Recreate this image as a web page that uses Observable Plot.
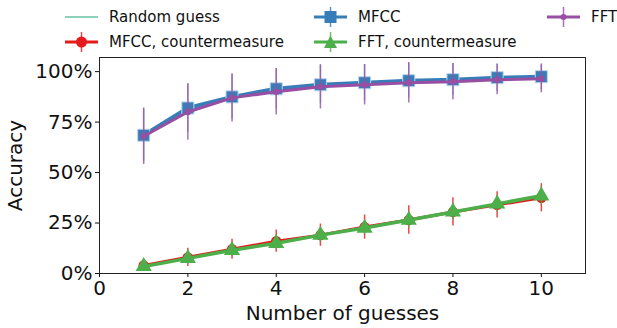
<!DOCTYPE html>
<html><head><meta charset="utf-8">
<script src="https://cdn.jsdelivr.net/npm/d3@7"></script>
<script src="https://cdn.jsdelivr.net/npm/@observablehq/plot@0.6"></script>
<style>
body{margin:0;background:#fff;font-family:"DejaVu Sans",sans-serif}
#wrap{position:relative;width:617px;height:328px}
.leg{position:absolute;font-size:15px;color:#111;display:flex;align-items:center;white-space:nowrap}
.leg svg{margin-right:11px}
</style></head><body>
<div id="wrap"></div>
<script>
const guesses = [1,2,3,4,5,6,7,8,9,10];
const randomGuess = guesses.map(n => n/26);
const mfcc    = [0.685,0.82,0.875,0.915,0.935,0.945,0.955,0.96,0.97,0.975];
const mfccErr = [0.13,0.12,0.11,0.10,0.095,0.09,0.085,0.08,0.07,0.065];
const fft     = [0.68,0.80,0.87,0.90,0.925,0.935,0.945,0.95,0.96,0.965];
const fftErr  = [0.14,0.14,0.12,0.115,0.11,0.10,0.10,0.09,0.075,0.07];
const mfccCm    = [0.04,0.08,0.12,0.16,0.19,0.23,0.265,0.305,0.34,0.375];
const mfccCmErr = [0.03,0.045,0.05,0.055,0.055,0.06,0.07,0.07,0.065,0.07];
const fftCm     = [0.035,0.075,0.115,0.15,0.19,0.225,0.265,0.305,0.345,0.385];
const fftCmErr  = [0.02,0.025,0.03,0.03,0.035,0.035,0.04,0.04,0.04,0.045];
const xTicks = [0,2,4,6,8,10];
const yTicks = [0,0.25,0.5,0.75,1.0];

const C = {rand:"#66c2a5", red:"#e41a1c", blue:"#377eb8", green:"#4daf4a", purple:"#984ea3"};

function rows(vals, err){ return guesses.map((g,i)=>({x:g,y:vals[i],lo:vals[i]-err[i],hi:vals[i]+err[i]})); }
const dMfcc = rows(mfcc,mfccErr), dFft = rows(fft,fftErr), dMc = rows(mfccCm,mfccCmErr), dFc = rows(fftCm,fftCmErr);
const dRand = guesses.map((g,i)=>({x:g,y:randomGuess[i]}));

const plot = Plot.plot({
  width:617, height:328,
  marginLeft:99, marginRight:32, marginTop:57, marginBottom:55,
  style:{fontFamily:"DejaVu Sans", fontSize:"20px", color:"#111", background:"white"},
  x:{domain:[0,11], ticks:xTicks, tickSize:4, label:"Number of guesses", labelAnchor:"center", labelArrow:"none", labelOffset:46, tickPadding:3},
  y:{domain:[0,1.07], ticks:yTicks, tickSize:4, tickFormat:d=>Math.round(d*100)+"%", label:"Accuracy", labelAnchor:"center", labelArrow:"none", labelOffset:92, tickPadding:3},
  marks:[
    Plot.line(dRand,{x:"x",y:"y",stroke:C.rand,strokeWidth:1.5}),
    Plot.ruleX(dMc,{x:"x",y1:"lo",y2:"hi",stroke:C.red,strokeWidth:1.5,strokeOpacity:0.8}),
    Plot.line(dMc,{x:"x",y:"y",stroke:C.red,strokeWidth:3}),
    Plot.dot(dMc,{x:"x",y:"y",r:5.2,fill:C.red,stroke:"none"}),
    Plot.ruleX(dFc,{x:"x",y1:"lo",y2:"hi",stroke:C.green,strokeWidth:1.5,strokeOpacity:0.8}),
    Plot.line(dFc,{x:"x",y:"y",stroke:C.green,strokeWidth:3.5}),
    Plot.dot(dFc,{x:"x",y:"y",r:6,symbol:"triangle",fill:C.green,stroke:"none"}),
    Plot.ruleX(dMfcc,{x:"x",y1:"lo",y2:"hi",stroke:C.blue,strokeWidth:1.5,strokeOpacity:0.5}),
    Plot.line(dMfcc,{x:"x",y:"y",stroke:C.blue,strokeWidth:4}),
    Plot.dot(dMfcc,{x:"x",y:"y",r:6.8,symbol:"square",fill:C.blue,stroke:"#bcd4ea",strokeWidth:1}),
    Plot.ruleX(dFft,{x:"x",y1:"lo",y2:"hi",stroke:C.purple,strokeWidth:1.5,strokeOpacity:0.8}),
    Plot.line(dFft,{x:"x",y:"y",stroke:C.purple,strokeWidth:3}),
    Plot.dot(dFft,{x:"x",y:"y",r:3.2,fill:C.purple,stroke:"none"}),
    Plot.frame({stroke:"#222",strokeWidth:1})
  ]
});
const wrap = document.getElementById("wrap");
wrap.appendChild(plot);

// legend
const legend = [
  {label:"Random guess", color:C.rand, sym:null, bar:false, left:65, top:17},
  {label:"MFCC", color:C.blue, sym:"square", bar:true, left:314, top:17},
  {label:"FFT", color:C.purple, sym:"smallcircle", bar:true, left:547, top:17},
  {label:"MFCC, countermeasure", color:C.red, sym:"circle", bar:true, left:65, top:42},
  {label:"FFT, countermeasure", color:C.green, sym:"triangle", bar:true, left:314, top:42}
];
for (const l of legend){
  const div = document.createElement("div");
  div.className="leg";
  div.style.left = l.left+"px"; div.style.top = (l.top-11)+"px"; div.style.height="22px";
  let s = `<svg width="33" height="22" viewBox="0 0 33 22">`;
  s += `<line x1="0" y1="11" x2="33" y2="11" stroke="${l.color}" stroke-width="${l.sym? 3:1.5}"/>`;
  if (l.bar) s += `<line x1="16.5" y1="1" x2="16.5" y2="21" stroke="${l.color}" stroke-width="1.5" opacity="0.8"/>`;
  if (l.sym==="square") s += `<rect x="10.5" y="5" width="12" height="12" fill="${l.color}"/>`;
  if (l.sym==="circle") s += `<circle cx="16.5" cy="11" r="5.5" fill="${l.color}"/>`;
  if (l.sym==="smallcircle") s += `<circle cx="16.5" cy="11" r="3" fill="${l.color}"/>`;
  if (l.sym==="triangle") s += `<path d="M16.5,4.5 L23,17 L10,17 Z" fill="${l.color}"/>`;
  s += `</svg>`;
  div.innerHTML = s + `<span>${l.label}</span>`;
  wrap.appendChild(div);
}
</script>
</body></html>
